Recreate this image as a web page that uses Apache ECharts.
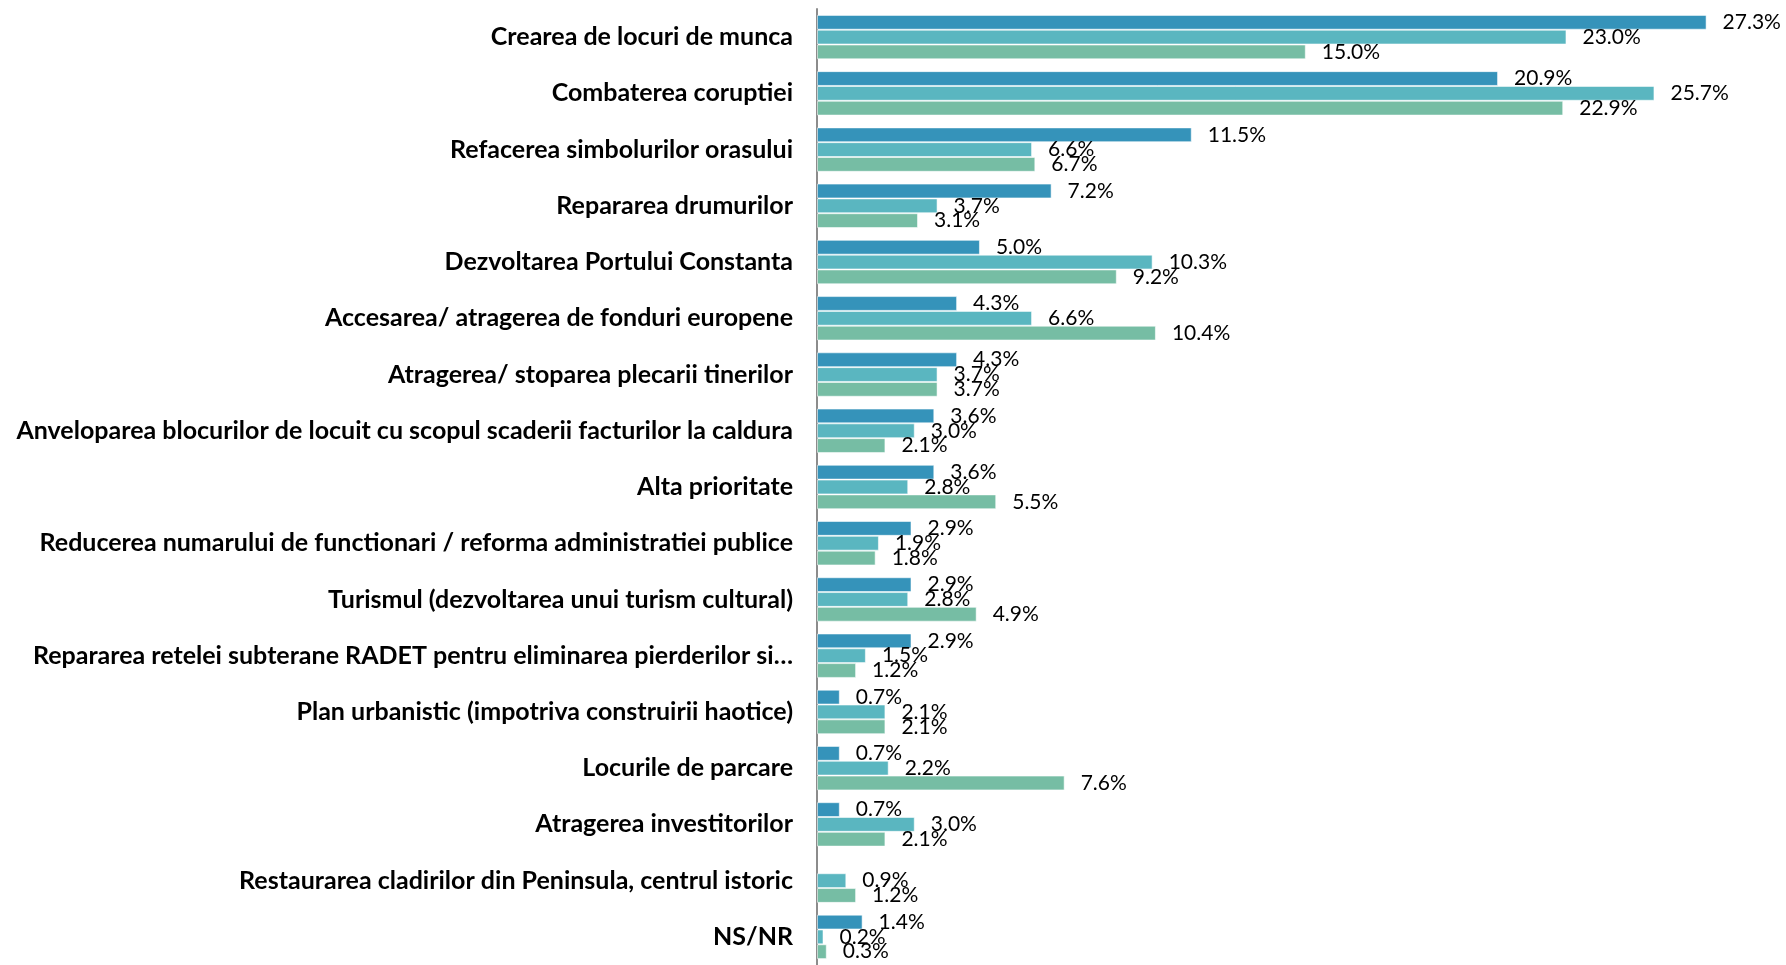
<!DOCTYPE html>
<html>
<head>
<meta charset="utf-8">
<script src="https://cdn.jsdelivr.net/npm/echarts@6/dist/echarts.min.js"></script>
<style>
  html, body { margin: 0; padding: 0; background: #fff; }
  #chart { width: 1786px; height: 965px; }
</style>
</head>
<body>
<div id="chart"></div>
<script>
// categorii, de sus in jos
const categories = [
  'Crearea de locuri de munca',
  'Combaterea coruptiei',
  'Refacerea simbolurilor orasului',
  'Repararea drumurilor',
  'Dezvoltarea Portului Constanta',
  'Accesarea/ atragerea de fonduri europene',
  'Atragerea/ stoparea plecarii tinerilor',
  'Anveloparea blocurilor de locuit cu scopul scaderii facturilor la caldura',
  'Alta prioritate',
  'Reducerea numarului de functionari / reforma administratiei publice',
  'Turismul (dezvoltarea unui turism cultural)',
  'Repararea retelei subterane RADET pentru eliminarea pierderilor si…',
  'Plan urbanistic (impotriva construirii haotice)',
  'Locurile de parcare',
  'Atragerea investitorilor',
  'Restaurarea cladirilor din Peninsula, centrul istoric',
  'NS/NR'
]

// valori in procente
const serie1 = [27.3, 20.9, 11.5, 7.2, 5.0, 4.3, 4.3, 3.6, 3.6, 2.9, 2.9, 2.9, 0.7, 0.7, 0.7, null, 1.4]
const serie2 = [23.0, 25.7, 6.6, 3.7, 10.3, 6.6, 3.7, 3.0, 2.8, 1.9, 2.8, 1.5, 2.1, 2.2, 3.0, 0.9, 0.2]
const serie3 = [15.0, 22.9, 6.7, 3.1, 9.2, 10.4, 3.7, 2.1, 5.5, 1.8, 4.9, 1.2, 2.1, 7.6, 2.1, 1.2, 0.3]

const colors = ['#3593ba', '#5ab6c0', '#76bda4']

const chart = echarts.init(document.getElementById('chart'))

function makeSeries (name, data) {
  return {
    name: name,
    type: 'bar',
    data: data,
    barGap: '0%',
    barCategoryGap: '21%',
    itemStyle: {
      borderColor: 'rgba(255,255,255,0.55)',
      borderWidth: 1
    },
    label: {
      show: true, // eticheta cu valoarea
      position: 'right',
      distance: 16,
      fontFamily: 'Lato',
      fontSize: 21,
      color: '#000',
      formatter: p => p.value == null ? '' : p.value.toFixed(1) + '%'
    }
  }
}

const options = {
  animation: false,
  color: colors,
  grid: {
    left: 817,
    right: 24,
    top: 9,
    bottom: -13
  },
  xAxis: {
    type: 'value',
    min: 0,
    max: 29,
    show: false
  },
  yAxis: {
    type: 'category',
    inverse: true,
    data: categories,
    axisTick: { show: false },
    axisLine: {
      show: true,
      lineStyle: { color: '#8c8c8c', width: 2 }
    },
    axisLabel: {
      margin: 24,
      fontFamily: 'Lato',
      fontWeight: 'bold',
      fontSize: 25,
      color: '#000'
    }
  },
  series: [
    makeSeries('Seria 1', serie1),
    makeSeries('Seria 2', serie2),
    makeSeries('Seria 3', serie3)
  ]
}

chart.setOption(options)
</script>
</body>
</html>
